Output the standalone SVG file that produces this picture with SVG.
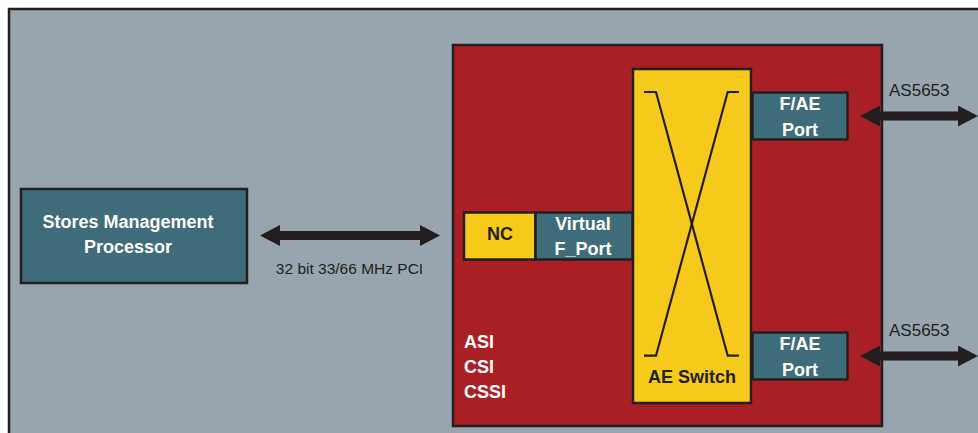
<svg xmlns="http://www.w3.org/2000/svg" width="978" height="433" viewBox="0 0 978 433">
<style>
.frame{fill:#98a5ae;stroke:#231f20;stroke-width:2.5}
.red{fill:#aa1f24;stroke:#231f20;stroke-width:2.5}
.yel{fill:#f6ca1a;stroke:#231f20;stroke-width:2.5}
.teal{fill:#3f6c79;stroke:#231f20;stroke-width:2.5}
.wb{font-family:"Liberation Sans",Arial,sans-serif;font-weight:bold;font-size:18px;fill:#ffffff}
.db{font-family:"Liberation Sans",Arial,sans-serif;font-weight:bold;font-size:18px;fill:#231f20}
.lbl{font-family:"Liberation Sans",Arial,sans-serif;font-size:17px;fill:#231f20}
.xline{fill:none;stroke:#231f20;stroke-width:2.2}
.conn{stroke:#231f20;stroke-width:9;marker-start:url(#ah);marker-end:url(#ah)}
</style>
<defs>
<marker id="ah" markerUnits="userSpaceOnUse" viewBox="0 0 20 21" markerWidth="20" markerHeight="21" refX="2" refY="10.5" orient="auto-start-reverse">
<path d="M0,0 L20,10.5 L0,21 Z" fill="#231f20"/>
</marker>
</defs>
<rect x="0" y="0" width="978" height="433" fill="#ffffff"/>
<rect class="frame" x="9" y="9" width="980" height="440"/>

<g id="smp">
<rect class="teal" x="21" y="189" width="226" height="94"/>
<text class="wb" x="128" y="228" text-anchor="middle">Stores Management</text>
<text class="wb" x="128" y="253" text-anchor="middle">Processor</text>
</g>

<g id="card">
<rect class="red" x="453" y="45" width="429" height="381"/>
<text class="wb" x="464" y="348">ASI</text>
<text class="wb" x="464" y="373">CSI</text>
<text class="wb" x="464" y="398">CSSI</text>
</g>

<g id="switch">
<rect class="yel" x="633" y="69" width="118" height="334"/>
<polyline class="xline" points="644,92 656,92 727.7,355.7 739,355.7"/>
<polyline class="xline" points="739,92 727.7,92 656,355.7 644,355.7"/>
<text class="db" x="692" y="383" text-anchor="middle">AE Switch</text>
</g>

<g id="nc">
<rect class="yel" x="464" y="212.5" width="71.5" height="47"/>
<text class="db" x="500" y="239.5" text-anchor="middle">NC</text>
</g>

<g id="vport">
<rect class="teal" x="535.5" y="212.5" width="97" height="47"/>
<text class="wb" x="583" y="229.5" text-anchor="middle">Virtual</text>
<text class="wb" x="583" y="254.5" text-anchor="middle">F_Port</text>
</g>

<g id="port1">
<rect class="teal" x="752.5" y="92.5" width="95" height="47"/>
<text class="wb" x="800" y="110" text-anchor="middle">F/AE</text>
<text class="wb" x="800" y="136" text-anchor="middle">Port</text>
</g>

<g id="port2">
<rect class="teal" x="752.5" y="332.5" width="95" height="47"/>
<text class="wb" x="800" y="350" text-anchor="middle">F/AE</text>
<text class="wb" x="800" y="376" text-anchor="middle">Port</text>
</g>

<g id="connectors">
<line class="conn" x1="278" y1="235.5" x2="422" y2="235.5"/>
<line class="conn" x1="878" y1="116" x2="960" y2="116"/>
<line class="conn" x1="878" y1="356" x2="960" y2="356"/>
<text class="lbl" x="349.5" y="274" text-anchor="middle" style="font-size:15.5px">32 bit 33/66 MHz PCI</text>
<text class="lbl" x="889" y="96">AS5653</text>
<text class="lbl" x="889" y="336">AS5653</text>
</g>
</svg>
